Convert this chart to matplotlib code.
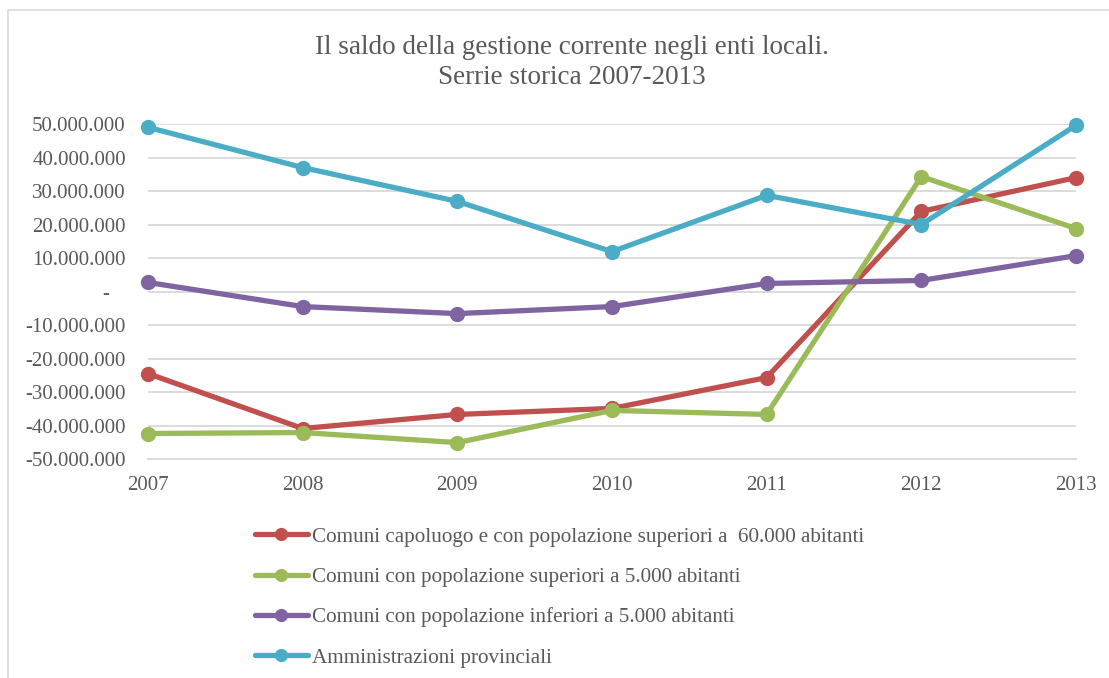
import matplotlib
matplotlib.use("Agg")
import matplotlib.pyplot as plt
from matplotlib.patches import Rectangle
from matplotlib.ticker import FuncFormatter, MultipleLocator

years = ["2007", "2008", "2009", "2010", "2011", "2012", "2013"]

capoluoghi = [-24.5e6, -40.9e6, -36.7e6, -34.9e6, -25.7e6, 23.9e6, 34.0e6]
sup_5000 = [-42.4e6, -42.1e6, -45.1e6, -35.5e6, -36.7e6, 34.3e6, 18.8e6]
inf_5000 = [2.7e6, -4.5e6, -6.6e6, -4.5e6, 2.4e6, 3.3e6, 10.7e6]
province = [49.0e6, 37.0e6, 26.9e6, 11.9e6, 28.7e6, 20.0e6, 49.6e6]

series_labels = [
    "Comuni capoluogo e con popolazione superiori a  60.000 abitanti",
    "Comuni con popolazione superiori a 5.000 abitanti",
    "Comuni con popolazione inferiori a 5.000 abitanti",
    "Amministrazioni provinciali",
]
series_colors = ["#C0504D", "#9BBB59", "#8064A2", "#4BACC6"]

TEXT = "#595959"
plt.rcParams["font.family"] = ["Liberation Serif", "DejaVu Serif"]

fig = plt.figure(figsize=(11.09, 6.78), dpi=100)
fig.patch.set_facecolor("white")
fig.patches.append(Rectangle((8 / 1109, -0.1), 1.2, (678 - 10) / 678 + 0.1,
                             transform=fig.transFigure, fill=False,
                             edgecolor="#D9D9D9", linewidth=1.2))

ax = fig.add_axes([148 / 1109, 1 - 459 / 678, (1076 - 148) / 1109, (459 - 124) / 678])
x = list(range(len(years)))
for vals, lab, col in zip([capoluoghi, sup_5000, inf_5000, province], series_labels, series_colors):
    ax.plot(x, vals, color=col, lw=3.8, marker="o", markersize=10,
            solid_capstyle="round", label=lab, clip_on=False)

ax.set_xlim(0, len(years) - 1)
ax.set_ylim(-50e6, 50e6)
ax.yaxis.set_major_locator(MultipleLocator(10e6))


def fmt(v, pos):
    if abs(v) < 1:
        return "-   "
    return f"{v:,.0f}".replace(",", ".")


ax.yaxis.set_major_formatter(FuncFormatter(fmt))
ax.set_xticks(x)
ax.set_xticklabels(years)
ax.grid(axis="y", color="#D9D9D9", lw=1.3)
ax.set_axisbelow(True)
for s in ["top", "right", "left"]:
    ax.spines[s].set_visible(False)
ax.spines["bottom"].set_color("#D9D9D9")
ax.spines["bottom"].set_linewidth(1.3)
ax.tick_params(axis="both", length=0, colors=TEXT, labelsize=15)
ax.tick_params(axis="y", pad=16)
ax.tick_params(axis="x", pad=12.5)

fig.text(572 / 1109, 1 - 47 / 678, "Il saldo della gestione corrente negli enti locali.",
         ha="center", va="center", fontsize=19.5, color=TEXT)
fig.text(572 / 1109, 1 - 78 / 678, "Serrie storica 2007-2013",
         ha="center", va="center", fontsize=19.5, color=TEXT)

leg = fig.legend(loc="upper left", bbox_to_anchor=(255 / 1109, 1 - 527 / 678),
                 frameon=False, fontsize=15.2, labelcolor=TEXT,
                 handlelength=2.5, handletextpad=0.22, labelspacing=0.97,
                 borderpad=0, borderaxespad=0, markerscale=0.85)

fig.savefig("out.png", dpi=100, facecolor="white")
